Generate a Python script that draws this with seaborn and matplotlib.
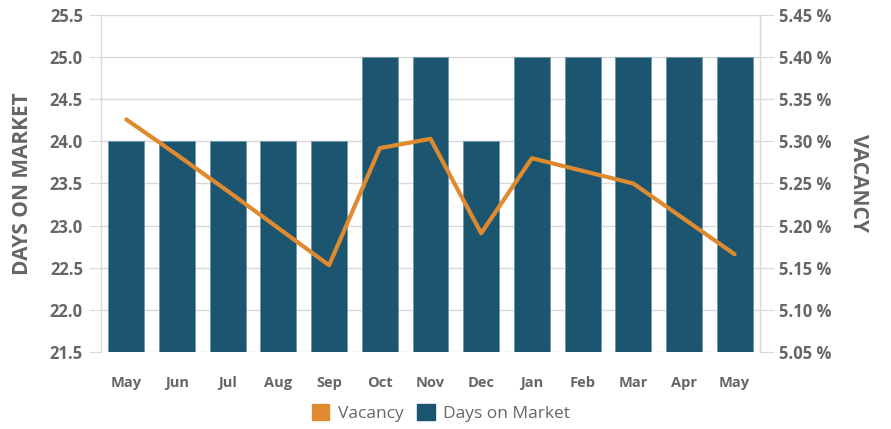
import numpy as np
import pandas as pd
import matplotlib
matplotlib.use("Agg")
import matplotlib.pyplot as plt
from matplotlib.patches import Patch
import seaborn as sns

# datos
months = ["May", "Jun", "Jul", "Aug", "Sep", "Oct", "Nov", "Dec", "Jan", "Feb", "Mar", "Apr", "May"]
days_on_market = [24, 24, 24, 24, 24, 25, 25, 24, 25, 25, 25, 25, 25]
vacancy = [5.326, 5.284, 5.241, 5.197, 5.153, 5.292, 5.303, 5.191, 5.280, 5.265, 5.250, 5.208, 5.166]

left_ticks = [21.5, 22.0, 22.5, 23.0, 23.5, 24.0, 24.5, 25.0, 25.5]
right_ticks = [5.05, 5.10, 5.15, 5.20, 5.25, 5.30, 5.35, 5.40, 5.45]

bar_color = "#1b5570"
line_color = "#e08a30"
text_color = "#666666"
grid_color = "#d9d9d9"

sns.set_style("white")
plt.rcParams["font.family"] = ["Open Sans", "DejaVu Sans"]

df = pd.DataFrame({"pos": np.arange(len(months)), "dom": days_on_market, "vac": vacancy})

fig = plt.figure(figsize=(8.91, 4.29), dpi=100)
ax = fig.add_axes([101 / 891, 1 - 352 / 429, 659 / 891, 337 / 429])

sns.barplot(data=df, x="pos", y="dom", color=bar_color, saturation=1, width=0.71,
            edgecolor="#6f97aa", linewidth=0.6, ax=ax, zorder=2)
ax.set_ylim(21.5, 25.5)
ax.set_yticks(left_ticks)
ax.set_yticklabels([f"{t:.1f}" for t in left_ticks], fontsize=12, fontweight="bold", color=text_color)
ax.set_xticks(range(len(months)))
ax.set_xticklabels(months, fontsize=10.5, fontweight="bold", color=text_color)
ax.set_xlabel("")
ax.set_ylabel("DAYS ON MARKET", fontsize=15, fontweight="bold", color=text_color, labelpad=12)
ax.yaxis.grid(True, color=grid_color, linewidth=1, zorder=0)
ax.set_axisbelow(True)
ax.tick_params(axis="y", length=9, color=grid_color, pad=4)
ax.tick_params(axis="x", length=0, pad=17)
for s in ["top", "bottom"]:
    ax.spines[s].set_visible(False)
for s in ["left", "right"]:
    ax.spines[s].set_color(grid_color)
    ax.spines[s].set_linewidth(1)

ax2 = ax.twinx()
sns.lineplot(data=df, x="pos", y="vac", color=line_color, linewidth=3, ax=ax2, zorder=3)
ax2.set_ylim(5.05, 5.45)
ax2.set_yticks(right_ticks)
ax2.set_yticklabels([f"{t:.2f} %" for t in right_ticks], fontsize=12, fontweight="bold", color=text_color)
ax2.set_ylabel("VACANCY", fontsize=15, fontweight="bold", color=text_color, rotation=270, labelpad=27)
ax2.tick_params(axis="y", length=10, color=grid_color, pad=4)
ax2.set_xlim(-0.5, len(months) - 0.5)
ax2.set_xlabel("")
for s in ["top", "bottom", "left"]:
    ax2.spines[s].set_visible(False)
ax2.spines["right"].set_color(grid_color)

handles = [Patch(facecolor=line_color, edgecolor=line_color),
           Patch(facecolor=bar_color, edgecolor=bar_color)]
fig.legend(handles, ["Vacancy", "Days on Market"], loc="center", bbox_to_anchor=(441 / 891, 1 - 413 / 429),
           ncol=2, frameon=False, fontsize=12.5, labelcolor=text_color, handlelength=1.0, handleheight=1.0,
           handletextpad=0.5, columnspacing=0.8)

fig.savefig("out.png", dpi=100)
